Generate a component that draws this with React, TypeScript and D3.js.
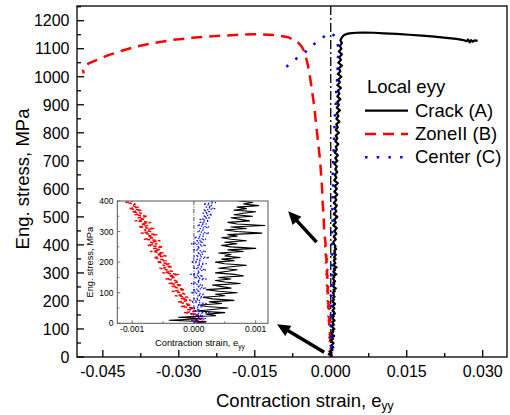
import React from "react";
import * as d3 from "d3";

const W = 510;
const H = 415;
const FONT = "'Liberation Sans', Arial, Helvetica, sans-serif";

// Stress levels (MPa) of the low-load records, shared by the three gauges
const lowStress = [
  0, 5, 10, 15, 20, 25, 30, 35, 40, 45, 50, 55, 60, 65, 70, 75, 80, 85, 90, 95,
  100, 105, 110, 115, 120, 125, 130, 135, 140, 145, 150, 155, 160, 165, 170, 175, 180, 185, 190, 195,
  200, 205, 210, 215, 220, 225, 230, 235, 240, 245, 250, 255, 260, 265, 270, 275, 280, 285, 290, 295,
  300, 305, 310, 315, 320, 325, 330, 335, 340, 345, 350, 355, 360, 365, 370, 375, 380, 385, 390, 395,
  400,
];

// Local e_yy at lowStress, in units of 1e-4
const crackLow = [
  0, 2, -4, 1, -2.5, 3.5, 2, 5, 0.5, 3, 5.5, 2, 1, 4.5, 2.5, 6.5, 3, 1.5, 5, 3.5,
  7, 4, 2, 6, 4.5, 3, 7.5, 5, 3.5, 6, 4, 8, 6.5, 3.5, 5.5, 7, 4, 6, 8.5, 5,
  3.5, 6.5, 4.5, 7.5, 5, 6, 4, 8, 5.5, 10, 6, 4.5, 7, 5, 8.5, 6, 4.5, 7, 5.5, 11,
  7, 5, 8.5, 6, 11.5, 7, 5.5, 9, 7.5, 6, 9.5, 6.5, 8, 10, 6.5, 8.5, 7, 10.5, 8, 9.5,
  7.5,
];
const zoneLow = [
  0.5, 2, 0, 1.5, -1, 1, 0, -1.5, 0.5, -1, 0, -2, -0.5, -1.5, -2.5, -0.5, -2, -1, -3, -1.5,
  -2, -3.5, -1.5, -2.5, -3.5, -2, -4, -2.5, -3, -4.5, -3, -4, -2.5, -5, -3.5, -4.5, -5.5, -3.5, -5, -4,
  -6, -4.5, -5.5, -6.5, -4.5, -6, -5, -7, -5.5, -6.5, -5, -7.5, -6, -7, -5.5, -8, -6.5, -7.5, -6, -8.5,
  -7, -8, -6.5, -9, -7.5, -8.5, -7, -9.5, -8, -9, -7.5, -9.5, -8.5, -10, -8.5, -10.5, -9, -10, -9.5, -11,
  -10,
];
const centerLow = [
  0, 1, -0.5, 2, 0.5, 1.5, -0.5, 2.5, 0, 1, -0.5, 1.5, 0.5, 2, -0.5, 1, 0, 2, 0.5, 1.5,
  -0.5, 1, 0, 2, 0.5, 1.5, -0.5, 1, 0.5, 2, 0, 1.5, -0.5, 1, 0.5, 2, 0, 1.5, 0.5, 2,
  -0.5, 1, 0.5, 2.5, 0, 1.5, 0.5, 2, 0, 1, 0.5, 2, -0.5, 1.5, 0.5, 2, 0, 1.5, 1, 2.5,
  0.5, 1.5, 1, 2.5, 0.5, 2, 1, 2.5, 1, 2.5, 1.5, 3, 1.5, 2.5, 1.5, 3.5, 2, 3, 1.5, 3.5,
  2.5,
];

// Higher-load records: [stress MPa, e_yy]
const crackHigh: [number, number][] = [
  [410, 0.0005], [420, 0.001], [430, 0.0006], [440, 0.0011], [450, 0.0007], [460, 0.0012],
  [470, 0.0005], [480, 0.001], [490, 0.0007], [500, 0.0013], [510, 0.0006], [520, 0.0011],
  [530, 0.0008], [540, 0.0012], [550, 0.0006], [560, 0.0011], [570, 0.0008], [580, 0.0013],
  [590, 0.0007], [600, 0.0012], [610, 0.0008], [620, 0.0014], [630, 0.0007], [640, 0.0011],
  [650, 0.0008], [660, 0.0013], [670, 0.0009], [680, 0.0012], [690, 0.0007], [700, 0.0013],
  [710, 0.0009], [720, 0.0014], [730, 0.0008], [740, 0.0012], [750, 0.001], [760, 0.0015],
  [770, 0.0009], [780, 0.0013], [790, 0.001], [800, 0.0016], [810, 0.001], [820, 0.0014],
  [830, 0.0011], [840, 0.0017], [850, 0.0011], [860, 0.0015], [870, 0.0012], [880, 0.0018],
  [890, 0.0012], [900, 0.0016], [910, 0.0013], [920, 0.0019], [930, 0.0013], [940, 0.0017],
  [950, 0.0014], [960, 0.002], [970, 0.0013], [980, 0.0018], [990, 0.0015], [1000, 0.0021],
  [1010, 0.0014], [1020, 0.0019], [1030, 0.0016], [1040, 0.0022], [1050, 0.0015], [1060, 0.002],
  [1070, 0.0017], [1080, 0.0022], [1090, 0.0016], [1100, 0.0021], [1110, 0.0018], [1120, 0.0022],
  [1130, 0.0019], [1140, 0.0022], [1147, 0.0025], [1152, 0.003], [1155, 0.0037], [1157, 0.005],
  [1158, 0.0065], [1157, 0.0085], [1155, 0.0105], [1153, 0.013], [1150, 0.0155], [1147, 0.018],
  [1143, 0.0205], [1139, 0.0228], [1135, 0.0248], [1131, 0.0262], [1127, 0.0268], [1133, 0.0271],
  [1123, 0.0274], [1131, 0.0277], [1125, 0.028], [1130, 0.0284], [1128, 0.029],
];
const zoneHigh: [number, number][] = [
  [450, -0.0013], [500, -0.0014], [550, -0.0016], [600, -0.0017], [650, -0.0019], [700, -0.0021],
  [750, -0.0024], [800, -0.0027], [850, -0.003], [900, -0.0033], [950, -0.0037], [1000, -0.0041],
  [1040, -0.0045], [1085, -0.0051], [1107, -0.0057], [1125, -0.0066], [1141, -0.0084], [1149, -0.011],
  [1152, -0.015], [1149, -0.0189], [1145, -0.0228], [1139, -0.0274], [1131, -0.0314], [1119, -0.0353],
  [1107, -0.0386], [1093, -0.0412], [1077, -0.0439], [1062, -0.0459], [1048, -0.0478], [1036, -0.0485],
  [1024, -0.0489], [1012, -0.0488],
];
const centerHigh: [number, number][] = [
  [450, 0.0003], [500, 0.0004], [550, 0.0003], [600, 0.0005], [650, 0.0004], [700, 0.0005],
  [750, 0.0006], [800, 0.0007], [850, 0.0008], [900, 0.001], [950, 0.0011], [1000, 0.0013],
  [1050, 0.0014], [1100, 0.0015], [1137, 0.0012], [1148, 0.0006], [1157, 0], [1150, -0.0008],
  [1137, -0.0018], [1124, -0.0028], [1110, -0.0037], [1087, -0.0051], [1066, -0.0067],
  [1044, -0.0082], [1016, -0.01],
];

// Axis ticks
const xTicks = [-0.045, -0.03, -0.015, 0, 0.015, 0.03];
const xMinor = [-0.0375, -0.0225, -0.0075, 0.0075, 0.0225];
const yTicks = [0, 100, 200, 300, 400, 500, 600, 700, 800, 900, 1000, 1100, 1200];
const yMinor = [50, 150, 250, 350, 450, 550, 650, 750, 850, 950, 1050, 1150, 1250];
const insetXTicks = [-0.001, 0, 0.001];
const insetXMinor = [-0.0005, 0.0005];
const insetYTicks = [0, 100, 200, 300, 400];
const insetYMinor = [50, 150, 250, 350];

// Legend entries
const seriesNames = ["Crack (A)", "ZoneII (B)", "Center (C)"];
const seriesColors = ["#000000", "#ff0000", "#0000ff"];

// Arrows pointing from the origin region to the inset, [e_yy, stress]
const arrows: { from: [number, number]; to: [number, number] }[] = [
  { from: [-0.0028, 410], to: [-0.0084, 520] },
  { from: [-0.0013, 17], to: [-0.0106, 117] },
];

type Pt = [number, number];

function build(low: number[], high: [number, number][]): Pt[] {
  const a: Pt[] = lowStress.map((s, i) => [low[i] * 1e-4, s]);
  return a.concat(high.map(([s, e]) => [e, s] as Pt));
}

const crack = build(crackLow, crackHigh);
const zone = build(zoneLow, zoneHigh);
const center = build(centerLow, centerHigh);

// Main plot frame
const M = { left: 77, right: 507, top: 6, bottom: 357 };
const x = d3.scaleLinear().domain([-0.0501, 0.0348]).range([M.left, M.right]);
const y = d3.scaleLinear().domain([0, 1252.5]).range([M.bottom, M.top]);

// Inset frame
const I = { left: 117.3, right: 268, top: 201, bottom: 323.3 };
const xi = d3.scaleLinear().domain([-0.00124, 0.0012]).range([I.left, I.right]);
const yi = d3.scaleLinear().domain([0, 400]).range([I.bottom, I.top]);

const lineMain = d3.line<Pt>().x((d) => x(d[0])).y((d) => y(d[1]));
const lineInset = d3.line<Pt>().x((d) => xi(d[0])).y((d) => yi(d[1]));

const fmt3 = (v: number) => (Math.abs(v) < 1e-12 ? "0.000" : v.toFixed(3));

function Arrow({ from, to }: { from: Pt; to: Pt }) {
  const x1 = x(from[0]);
  const y1 = y(from[1]);
  const x2 = x(to[0]);
  const y2 = y(to[1]);
  const ang = Math.atan2(y2 - y1, x2 - x1);
  const hl = 13;
  const hw = 6;
  const bx = x2 - hl * Math.cos(ang);
  const by = y2 - hl * Math.sin(ang);
  const px = -Math.sin(ang);
  const py = Math.cos(ang);
  const pts = [
    [x2, y2],
    [bx + px * hw, by + py * hw],
    [bx - px * hw, by - py * hw],
  ]
    .map((p) => p.join(","))
    .join(" ");
  return (
    <g>
      <line x1={x1} y1={y1} x2={bx + Math.cos(ang)} y2={by + Math.sin(ang)} stroke="#000" strokeWidth={3.5} />
      <polygon points={pts} fill="#000" />
    </g>
  );
}

export default function App() {
  const mainStyles = [
    { stroke: seriesColors[0], strokeWidth: 2.2, dash: undefined as string | undefined },
    { stroke: seriesColors[1], strokeWidth: 2.5, dash: "11 7" },
    { stroke: seriesColors[2], strokeWidth: 2.5, dash: "2.5 9.2" },
  ];
  const insetStyles = [
    { stroke: seriesColors[0], strokeWidth: 1.1, dash: undefined as string | undefined },
    { stroke: seriesColors[1], strokeWidth: 1.5, dash: "3.5 2" },
    { stroke: seriesColors[2], strokeWidth: 1.3, dash: "1.3 2.2" },
  ];
  const data = [crack, zone, center];
  const drawOrder = [1, 0, 2];

  return (
    <svg
      width={W}
      height={H}
      viewBox={`0 0 ${W} ${H}`}
      style={{ position: "absolute", left: 0, top: 0, background: "#fff" }}
      fontFamily={FONT}
    >
      <defs>
        <clipPath id="mainClip">
          <rect x={M.left} y={M.top} width={M.right - M.left} height={M.bottom - M.top} />
        </clipPath>
        <clipPath id="insetClip">
          <rect x={I.left} y={I.top} width={I.right - I.left} height={I.bottom - I.top} />
        </clipPath>
      </defs>
      <rect x={0} y={0} width={W} height={H} fill="#fff" />

      {/* zero-strain reference line */}
      <line
        x1={x(0)}
        x2={x(0)}
        y1={M.top}
        y2={M.bottom}
        stroke="#000"
        strokeWidth={1.3}
        strokeDasharray="9 3 2 3"
      />

      {/* main curves */}
      <g clipPath="url(#mainClip)" fill="none" strokeLinejoin="round">
        {drawOrder.map((k) => (
          <path
            key={k}
            d={lineMain(data[k]) || ""}
            stroke={mainStyles[k].stroke}
            strokeWidth={mainStyles[k].strokeWidth}
            strokeDasharray={mainStyles[k].dash}
          />
        ))}
      </g>

      {/* main frame */}
      <rect
        x={M.left}
        y={M.top}
        width={M.right - M.left}
        height={M.bottom - M.top}
        fill="none"
        stroke="#000"
        strokeWidth={1.3}
      />

      {/* main ticks */}
      <g stroke="#000" strokeWidth={1.3}>
        {yTicks.map((t) => (
          <line key={"yt" + t} x1={M.left} x2={M.left + 7} y1={y(t)} y2={y(t)} />
        ))}
        {yMinor.map((t) => (
          <line key={"ym" + t} x1={M.left} x2={M.left + 4} y1={y(t)} y2={y(t)} />
        ))}
        {xTicks.map((t) => (
          <line key={"xt" + t} x1={x(t)} x2={x(t)} y1={M.bottom} y2={M.bottom - 7} />
        ))}
        {xMinor.map((t) => (
          <line key={"xm" + t} x1={x(t)} x2={x(t)} y1={M.bottom} y2={M.bottom - 4} />
        ))}
      </g>
      <g fontSize={16} fill="#000">
        {yTicks.map((t) => (
          <text key={"yl" + t} x={69.5} y={y(t)} dy="0.36em" textAnchor="end">
            {t}
          </text>
        ))}
        {xTicks.map((t) => (
          <text key={"xl" + t} x={x(t)} y={377.3} textAnchor="middle">
            {fmt3(t)}
          </text>
        ))}
      </g>

      {/* axis titles */}
      <text x={216} y={406.5} fontSize={18.5} fill="#000">
        Contraction strain, e
        <tspan fontSize={12} dy={3.5}>
          yy
        </tspan>
      </text>
      <text
        transform="translate(28.5,179) rotate(-90)"
        textAnchor="middle"
        fontSize={18.5}
        fill="#000"
      >
        Eng. stress, MPa
      </text>

      {/* legend */}
      <text x={367} y={93.3} fontSize={18.5} fill="#000">
        Local eyy
      </text>
      {seriesNames.map((name, i) => {
        const ly = 110.7 + i * 23.3;
        return (
          <g key={name}>
            <line
              x1={365}
              x2={408}
              y1={ly}
              y2={ly}
              stroke={mainStyles[i].stroke}
              strokeWidth={mainStyles[i].strokeWidth}
              strokeDasharray={mainStyles[i].dash}
            />
            <text x={415} y={ly + 6} fontSize={18.5} fill="#000">
              {name}
            </text>
          </g>
        );
      })}

      {/* inset */}
      <rect
        x={I.left}
        y={I.top}
        width={I.right - I.left}
        height={I.bottom - I.top}
        fill="#fff"
      />
      <line
        x1={xi(0)}
        x2={xi(0)}
        y1={I.top}
        y2={I.bottom}
        stroke="#000"
        strokeWidth={0.7}
        strokeDasharray="4 1.5 1 1.5"
      />
      <g clipPath="url(#insetClip)" fill="none" strokeLinejoin="round">
        {drawOrder.map((k) => (
          <path
            key={k}
            d={lineInset(data[k]) || ""}
            stroke={insetStyles[k].stroke}
            strokeWidth={insetStyles[k].strokeWidth}
            strokeDasharray={insetStyles[k].dash}
          />
        ))}
      </g>
      <rect
        x={I.left}
        y={I.top}
        width={I.right - I.left}
        height={I.bottom - I.top}
        fill="none"
        stroke="#555"
        strokeWidth={1}
      />
      <g stroke="#555" strokeWidth={0.8}>
        {insetYTicks.map((t) => (
          <line key={"iyt" + t} x1={I.left} x2={I.left + 3} y1={yi(t)} y2={yi(t)} />
        ))}
        {insetYMinor.map((t) => (
          <line key={"iym" + t} x1={I.left} x2={I.left + 2} y1={yi(t)} y2={yi(t)} />
        ))}
        {insetXTicks.map((t) => (
          <line key={"ixt" + t} x1={xi(t)} x2={xi(t)} y1={I.bottom} y2={I.bottom - 3} />
        ))}
        {insetXMinor.map((t) => (
          <line key={"ixm" + t} x1={xi(t)} x2={xi(t)} y1={I.bottom} y2={I.bottom - 2} />
        ))}
      </g>
      <g fontSize={8.5} fill="#000">
        {insetYTicks.map((t) => (
          <text key={"iyl" + t} x={113.5} y={yi(t)} dy="0.36em" textAnchor="end">
            {t}
          </text>
        ))}
        {insetXTicks.map((t) => (
          <text key={"ixl" + t} x={xi(t)} y={331.7} textAnchor="middle">
            {fmt3(t)}
          </text>
        ))}
      </g>
      <text x={155} y={346} fontSize={9.3} fill="#000">
        Contraction strain, e
        <tspan fontSize={6.5} dy={2.5}>
          yy
        </tspan>
      </text>
      <text
        transform={`translate(93,${(I.top + I.bottom) / 2}) rotate(-90)`}
        textAnchor="middle"
        fontSize={9.3}
        fill="#000"
      >
        Eng. stress, MPa
      </text>

      {/* pointer arrows */}
      {arrows.map((a, i) => (
        <Arrow key={i} from={a.from} to={a.to} />
      ))}
    </svg>
  );
}
